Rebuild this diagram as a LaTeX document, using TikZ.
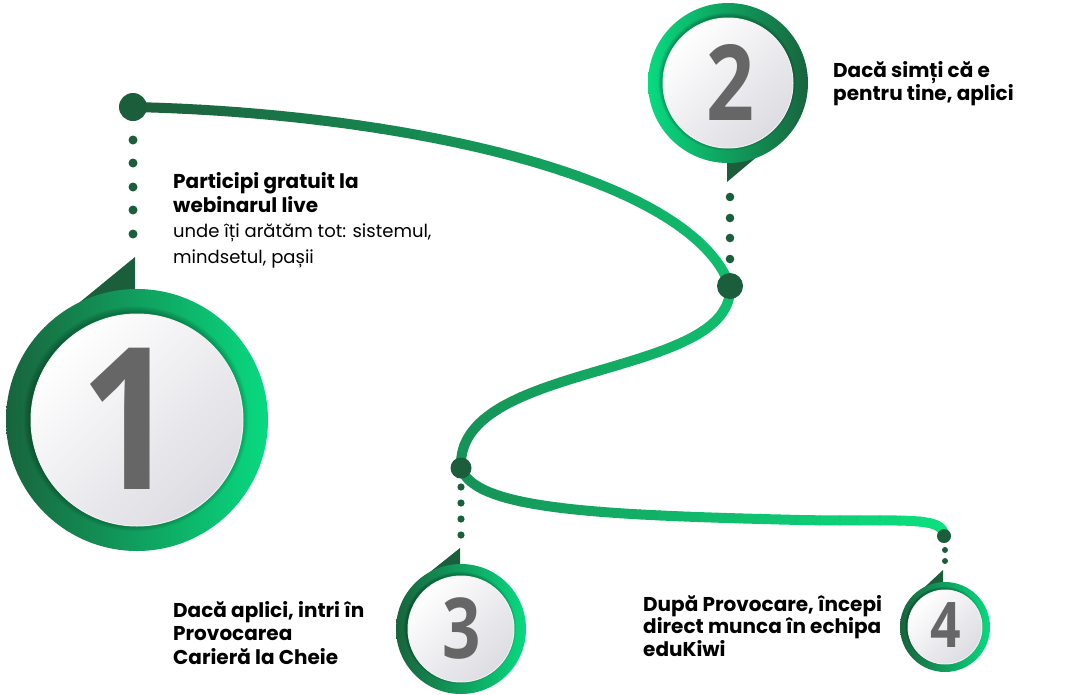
\documentclass[tikz,border=0pt]{standalone}
\usepackage{fontspec}
\setmainfont{Poppins}
\newfontfamily\numfont{Open Sans}
\usetikzlibrary{calc}
\definecolor{dkgreen}{RGB}{27,94,59}
\definecolor{ringdark}{RGB}{24,100,60}
\definecolor{ringbright}{RGB}{8,218,128}
\definecolor{pathdark}{RGB}{28,92,58}
\definecolor{pathbright}{RGB}{12,226,128}
\definecolor{innergray}{RGB}{220,220,226}
\definecolor{numgray}{RGB}{102,102,102}
\newcommand\trailpath{(d1) .. controls (400,113) and (690,175) .. (d2) .. controls (735,380) and (455,360) .. (d3) .. controls (475,510) and (600,515) .. (800,520) .. controls (900,522) and (944,515) .. (d4)}
\newcommand\medal[5]{%
  \shade[left color=#4, right color=#5] #1 circle (#2);
  \foreach \k in {1,...,5} \fill[black, opacity=0.05] ($#1+(-1,-1.2)$) circle ({#3+\k*(#2-#3)/20});
  \shade[top color=white, bottom color=innergray, shading angle=45] #1 circle (#3);
  \draw[white!94!black, line width=1pt] #1 circle (#3);
}
\tikzset{
  bigdot/.style={circle, fill=dkgreen, inner sep=0pt},
  steptext/.style={anchor=base west, inner sep=0pt, align=left, text=black},
  boldtext/.style={steptext, font=\fontsize{20}{23.5}\selectfont\bfseries},
  numtext/.style={inner sep=0pt, text=numgray},
}
\begin{document}
\begin{tikzpicture}[x=1pt,y=-1pt]
\useasboundingbox (0,0) rectangle (1090,694);
\coordinate (d1) at (133,107);
\coordinate (d2) at (730,286);
\coordinate (d3) at (461,468);
\coordinate (d4) at (944,536);
\coordinate (c1) at (137,420);
\coordinate (c2) at (728,83);
\coordinate (c3) at (461,629);
\coordinate (c4) at (945,627);

% trail with horizontal gradient
\foreach \i in {0,...,41}{
  \pgfmathtruncatemacro\p{min(100,max(0,(\i*20+10)/830*100))}
  \begin{scope}
    \clip (120+\i*20-0.6, 0) rectangle (120+\i*20+20.6, 694);
    \draw[line width=10pt, pathbright!\p!pathdark] \trailpath;
  \end{scope}
}

% dotted guides
\foreach \y in {140,163,187,210,234} \fill[dkgreen] (133,\y) circle (4.5);
\foreach \y in {197,218,238,259} \fill[dkgreen] (730,\y) circle (4.3);
\foreach \y in {487,503,519,535} \fill[dkgreen] (461,\y) circle (3.6);
\foreach \y in {550,561} \fill[dkgreen] (945,\y) circle (3);

% big dots
\node[bigdot, minimum size=28pt] (n1) at (d1) {};
\node[bigdot, minimum size=26pt] (n2) at (d2) {};
\node[bigdot, minimum size=21pt] (n3) at (d3) {};
\node[bigdot, minimum size=14pt] (n4) at (d4) {};

% tabs
\fill[dkgreen] (135,257) -- (135,400) -- (52,325) -- cycle;
\fill[dkgreen] (727,182) -- (727,100) -- (765,150) -- cycle;
\fill[dkgreen] (460,548) -- (460,600) -- (420,580) -- cycle;
\fill[dkgreen] (943,570) -- (943,610) -- (913,598) -- cycle;

% medals
\medal{(c1)}{131}{106}{ringdark}{ringbright}
\medal{(c2)}{80}{65}{ringbright}{ringdark}
\medal{(c3)}{65}{53}{ringdark}{ringbright}
\medal{(c4)}{45}{37}{ringdark}{ringbright}

% numbers
\node[numtext, font=\numfont\bfseries\fontsize{198}{198}\selectfont] (k1) at (129,419) {\scalebox{0.85}[1]{1}};
\node[numtext, font=\numfont\bfseries\fontsize{105}{105}\selectfont] (k2) at (730,82.5) {\scalebox{0.8}[1]{2}};
\node[numtext, font=\numfont\bfseries\fontsize{84}{84}\selectfont] (k3) at (461.5,628) {\scalebox{0.8}[1]{3}};
\node[numtext, font=\numfont\bfseries\fontsize{63}{63}\selectfont] (k4) at (946,625.5) {\scalebox{0.85}[1]{4}};

% texts (anchor = baseline of the last line)
\node[boldtext, font=\fontsize{20}{24}\selectfont\bfseries] (t1) at (173,212) {Participi gratuit la\\webinarul live};
\node[steptext, font=\fontsize{18}{26}\selectfont] (t1b) at (173,263) {unde îți arătăm tot: sistemul,\\mindsetul, pașii};
\node[boldtext, font=\fontsize{20}{23}\selectfont\bfseries] (t2) at (833,100) {Dacă simți că e\\pentru tine, aplici};
\node[boldtext] (t3) at (173,664) {Dacă aplici, intri în\\Provocarea\\Carieră la Cheie};
\node[boldtext, font=\fontsize{20}{22.5}\selectfont\bfseries] (t4) at (643,656) {După Provocare, începi\\direct munca în echipa\\eduKiwi};
\end{tikzpicture}
\end{document}
